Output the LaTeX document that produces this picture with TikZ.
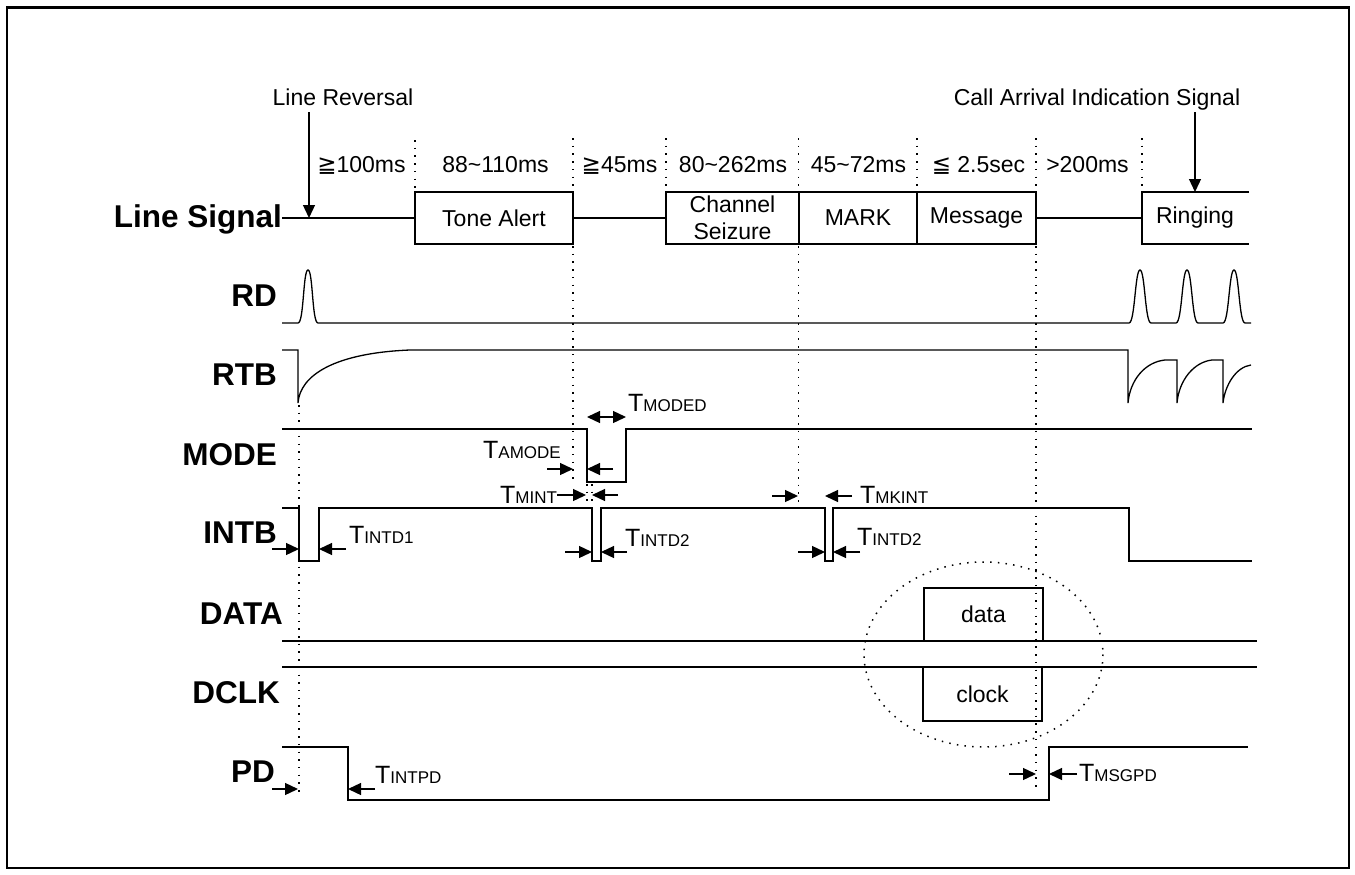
\documentclass[tikz,border=0pt]{standalone}
\usepackage{fontspec}
\setmainfont{Liberation Sans}
\newfontfamily\symf{DejaVu Sans}
\usetikzlibrary{arrows.meta}
\newcommand{\tlab}[1]{{\fontsize{25}{25}\selectfont T}{\fontsize{17}{17}\selectfont #1}}
\tikzset{
  sig/.style={line width=1.3pt, line join=miter},
  dots/.style={line width=1.5pt, dash pattern=on 1.5pt off 6.2pt},
  lbl/.style={font=\fontsize{31.5}{31.5}\selectfont\bfseries, anchor=base east, inner sep=0pt},
  txt/.style={font=\fontsize{23}{27}\selectfont, inner sep=0pt},
  dur/.style={txt, anchor=base},
  tl/.style={inner sep=0pt, anchor=base west},
  marker/.style={line width=1.3pt, -{Triangle[length=13pt,width=12pt]}},
  dmarker/.style={line width=1.3pt, {Triangle[length=13pt,width=12pt]}-{Triangle[length=13pt,width=12pt]}},
  sigbox/.style={draw, line width=1.3pt, inner sep=0pt, font=\fontsize{23}{27}\selectfont, align=center, minimum height=52pt}
}
\begin{document}
\begin{tikzpicture}[x=1pt,y=-1pt]
\useasboundingbox (0,0) rectangle (1355,875);
\draw[line width=2.5pt] (7,7.5) rectangle (1349,868);

% signal names
\node[lbl] (lsig) at (282,227) {Line Signal};
\node[lbl] (nrd) at (277,306) {RD};
\node[lbl] (nrtb) at (277,385) {RTB};
\node[lbl] (nmode) at (277,465) {MODE};
\node[lbl] (nintb) at (277,543) {INTB};
\node[lbl] (ndata) at (283,624) {DATA};
\node[lbl] (ndclk) at (280,703) {DCLK};
\node[lbl] (npd) at (275,782) {PD};

% top annotations
\node[txt, anchor=base] (lrev) at (343,106) {Line Reversal};
\node[txt, anchor=base] (cais) at (1097,106) {Call Arrival Indication Signal};
\coordinate (lrevs) at (309,112);
\coordinate (lrevt) at (309,218);
\coordinate (caiss) at (1195,112);
\coordinate (caist) at (1195,192);
\draw[marker] (lrevs) -- (lrevt);
\draw[marker] (caiss) -- (caist);

% durations
\node[dur] (d1) at (361.5,172) {{\symf ≧}100ms};
\node[dur] (d2) at (495.5,172) {88\textasciitilde110ms};
\node[dur] (d3) at (619.5,172) {{\symf ≧}45ms};
\node[dur] (d4) at (733,172) {80\textasciitilde262ms};
\node[dur] (d5) at (858.5,172) {45\textasciitilde72ms};
\node[dur] (d6) at (978.5,172) {{\symf ≦} 2.5sec};
\node[dur] (d7) at (1087.5,172) {>200ms};

% line signal boxes
\node[sigbox, minimum width=158pt] (tone) at (494,218) {Tone Alert};
\node[sigbox, minimum width=133pt] (chan) at (732.5,218) {Channel\\Seizure};
\node[sigbox, minimum width=118pt] (mark) at (858,218) {MARK};
\node[sigbox, minimum width=119pt] (msg) at (976.5,218) {Message};
\node[txt] (ring) at (1195,218) {Ringing};
\coordinate (lsstart) at (282,218);
\coordinate (ringl) at (1142,218);
\draw[sig] (lsstart) -- (tone.west);
\draw[sig] (tone.east) -- (chan.west);
\draw[sig] (msg.east) -- (ringl);
\draw[sig] (1249,192) -- (1142,192) -- (1142,244) -- (1249,244);

% dotted guides
\draw[dots] (415,140) -- (415,192);
\draw[dots] (573,138) -- (573,192);
\draw[dots] (573,246) -- (573,480);
\draw[dots] (666,138) -- (666,192);
\draw[dots] (798.5,138) -- (798.5,192);
\draw[dots] (798.5,246) -- (798.5,508);
\draw[dots] (917,138) -- (917,192);
\draw[dots] (1036,138) -- (1036,192);
\draw[dots] (1036,246) -- (1036,790);
\draw[dots] (1142,138) -- (1142,192);
\draw[dots] (299,405) -- (299,797);
\draw[dots] (587,484) -- (587,508);
\draw[dots] (592,484) -- (592,508);

% RD
\draw[sig] (282,323) -- (298,323)
  .. controls (304,323) and (303,270) .. (308,270) .. controls (313,270) and (312,323) .. (318,323)
  -- (1129,323)
  .. controls (1135,323) and (1135,270) .. (1140,270) .. controls (1145,270) and (1145,323) .. (1151,323)
  -- (1176,323)
  .. controls (1182,323) and (1182,270) .. (1187,270) .. controls (1192,270) and (1192,323) .. (1198,323)
  -- (1223,323)
  .. controls (1229,323) and (1229,270) .. (1234,270) .. controls (1239,270) and (1239,323) .. (1245,323)
  -- (1251,323);

% RTB
\draw[sig] (282,350) -- (298,350) -- (298,403)
  .. controls (300,375) and (335,353) .. (410,350) -- (1128,350) -- (1128,403)
  .. controls (1130,380) and (1145,362) .. (1165,360) -- (1177,360) -- (1177,403)
  .. controls (1179,380) and (1194,362) .. (1212,360) -- (1223,360) -- (1223,403)
  .. controls (1225,385) and (1236,367) .. (1251,365);

% MODE
\draw[sig] (282,429) -- (587,429) -- (587,482) -- (626,482) -- (626,429) -- (1252,429);

% INTB
\draw[sig] (282,508) -- (299,508) -- (299,561) -- (319,561) -- (319,508) -- (592,508)
  -- (592,561) -- (601,561) -- (601,508) -- (825,508) -- (825,561) -- (833,561) -- (833,508)
  -- (1129,508) -- (1129,561) -- (1252,561);

% DATA / DCLK
\draw[sig] (282,641) -- (1257,641);
\draw[sig] (924,641) -- (924,588) -- (1043,588) -- (1043,641);
\node[txt] (datat) at (983.5,614) {data};
\draw[sig] (282,667) -- (1257,667);
\draw[sig] (923,667) -- (923,721) -- (1042,721) -- (1042,667);
\node[txt] (clockt) at (982.5,694) {clock};
\draw[dots] (983.5,654.5) ellipse [x radius=119.5, y radius=92.5];

% PD
\draw[sig] (282,747) -- (348,747) -- (348,800) -- (1049,800) -- (1049,747) -- (1248,747);

% timing labels
\node[tl] (tmoded) at (628,411) {\tlab{MODED}};
\node[tl] (tamode) at (483,458) {\tlab{AMODE}};
\node[tl] (tmint) at (500,503) {\tlab{MINT}};
\node[tl] (tintd2a) at (625,546) {\tlab{INTD2}};
\node[tl] (tmkint) at (860,503) {\tlab{MKINT}};
\node[tl] (tintd2b) at (857,545) {\tlab{INTD2}};
\node[tl] (tintd1) at (349,543) {\tlab{INTD1}};
\node[tl] (tintpd) at (375,783) {\tlab{INTPD}};
\node[tl] (tmsgpd) at (1079,781) {\tlab{MSGPD}};

% timing arrows
\draw[dmarker] (587,417) -- (626,417);
\draw[marker] (547,469) -- (573,469);
\draw[marker] (613,469) -- (587,469);
\draw[marker] (557,495) -- (586,495);
\draw[marker] (618,495) -- (592,495);
\draw[marker] (565,552) -- (592,552);
\draw[marker] (627,552) -- (601,552);
\draw[marker] (772,496) -- (798,496);
\draw[marker] (852,496) -- (825,496);
\draw[marker] (798,552) -- (825,552);
\draw[marker] (860,552) -- (833,552);
\draw[marker] (272,549) -- (299,549);
\draw[marker] (346,549) -- (319,549);
\draw[marker] (272,789) -- (298,789);
\draw[marker] (375,789) -- (348,789);
\draw[marker] (1009,774) -- (1036,774);
\draw[marker] (1077,774) -- (1049,774);
\end{tikzpicture}
\end{document}
